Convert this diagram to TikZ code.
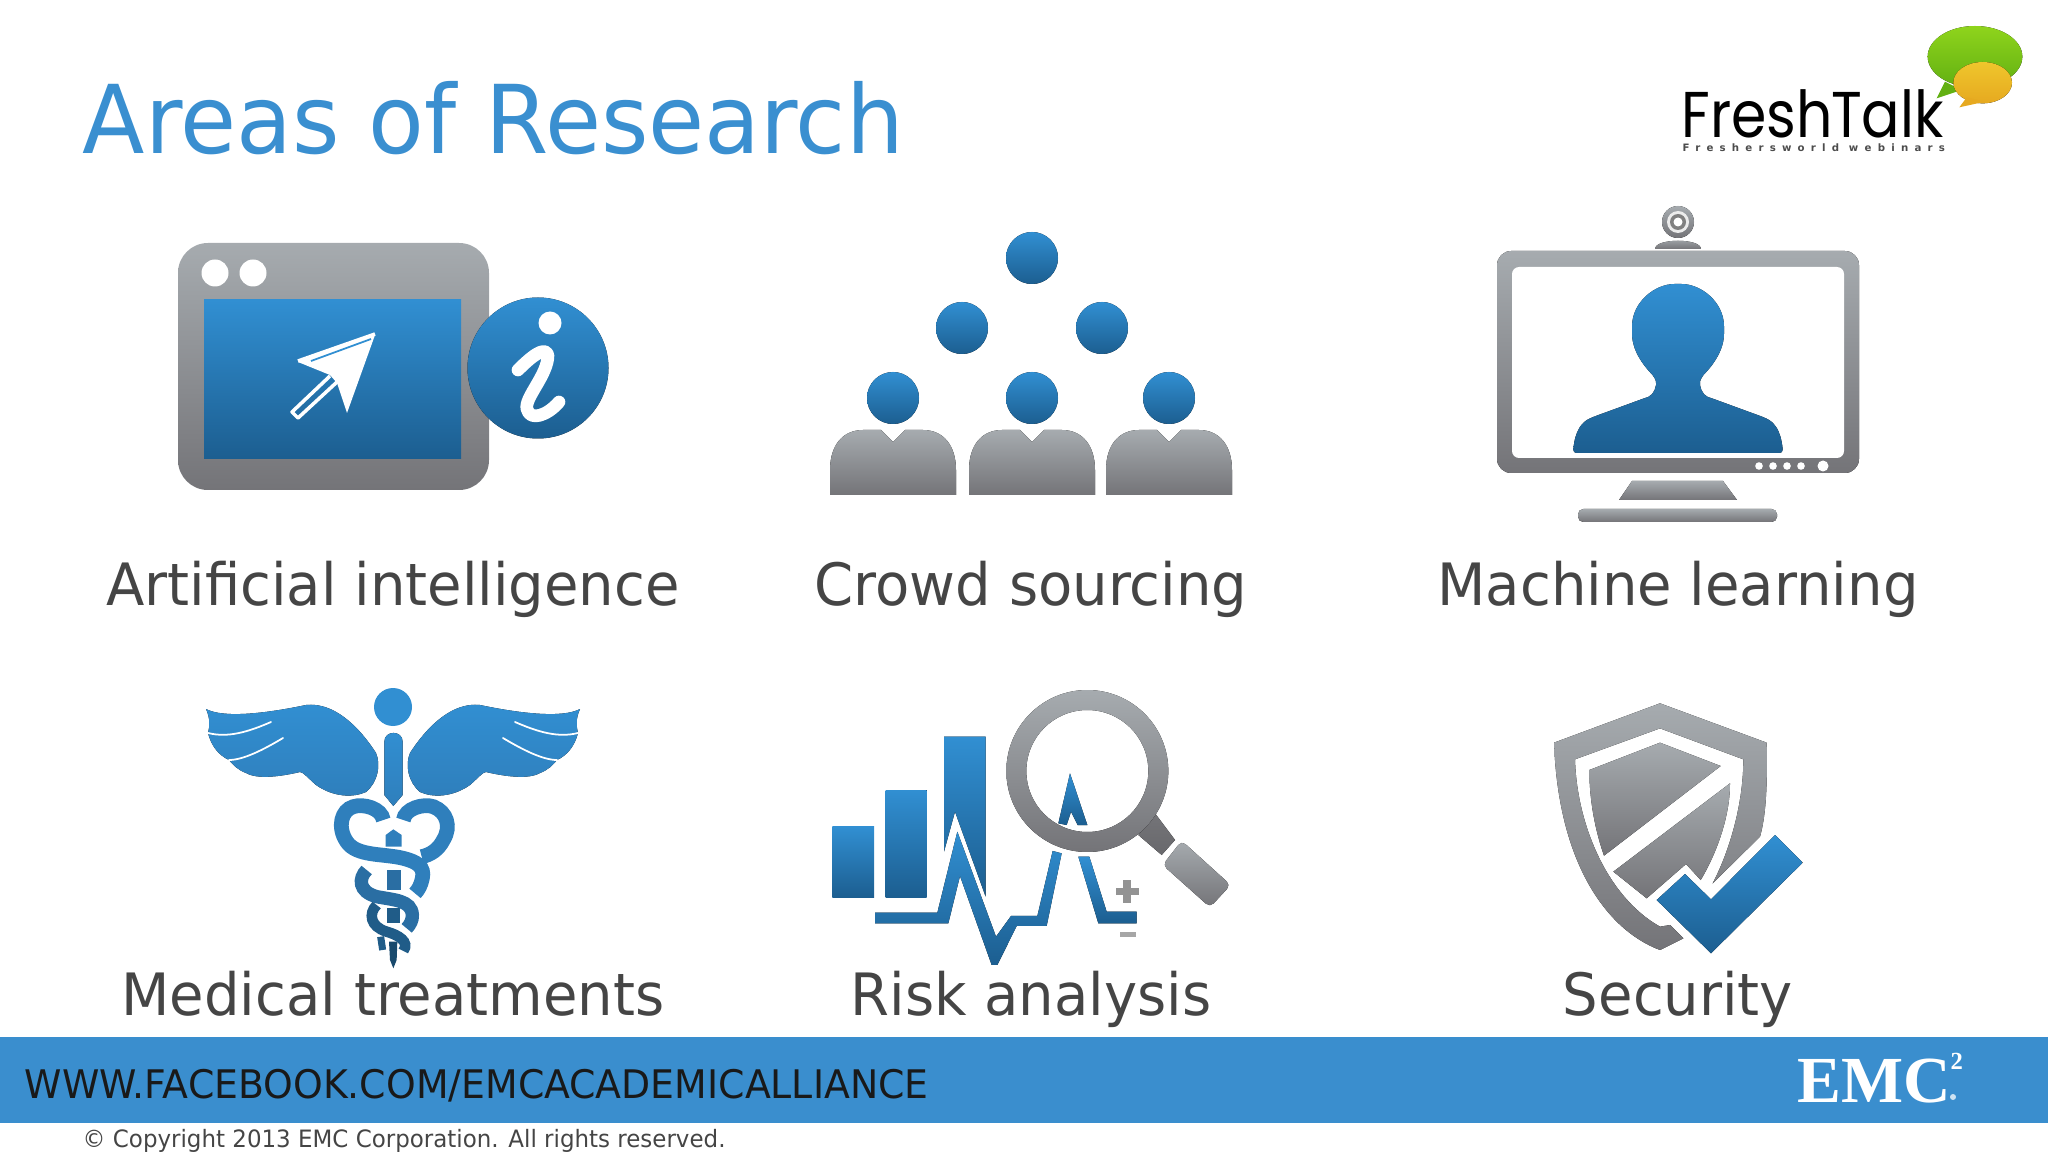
\documentclass[tikz,border=0pt]{standalone}
\usepackage{fontspec}
\setmainfont[FakeStretch=0.96]{DejaVu Sans}
\newfontfamily\logofont[FakeStretch=0.88]{Poppins}
\newfontfamily\logosubfont[LetterSpace=61]{DejaVu Sans Bold}
\newfontfamily\emcfont{Liberation Serif}
\definecolor{bluetop}{HTML}{318FD2}
\definecolor{bluebot}{HTML}{1C5E90}
\definecolor{graytop}{HTML}{A6ABAF}
\definecolor{graybot}{HTML}{747478}
\definecolor{barblue}{HTML}{3A8ECE}
\definecolor{titleblue}{HTML}{3A8FD0}
\definecolor{labelgray}{HTML}{454545}
\definecolor{snakea}{HTML}{2F7FBC}
\definecolor{snakeb}{HTML}{2A6EA3}
\definecolor{snakec}{HTML}{205C88}
\definecolor{logogreentop}{HTML}{8FD41C}
\definecolor{logogreenbot}{HTML}{62B012}
\definecolor{logoyellowtop}{HTML}{EFC62C}
\definecolor{logoyellowbot}{HTML}{E6A920}
\tikzset{
	bluegrad/.style={top color=bluetop,bottom color=bluebot,draw=none},
	graygrad/.style={top color=graytop,bottom color=graybot,draw=none},
	labeltext/.style={anchor=base,inner sep=0pt,text=labelgray,font=\fontsize{16.6}{20}\selectfont},
	whiteline/.style={draw=white,line width=0.5pt,line cap=round}
}
\begin{document}
\begin{tikzpicture}[x=0.01cm,y=-0.01cm]
	\useasboundingbox (0,0) rectangle (2048,1152);

	\node[anchor=base west,inner sep=0pt,text=titleblue,font=\fontsize{27}{30}\selectfont] (title) at (82,154) {Areas of Research};

	\begin{scope}[shift={(1650,10)},scale=1/3]
		\fill[top color=logogreentop,bottom color=logogreenbot] (975,140)ellipse(142 and 92);
		\fill[logogreenbot] (885,215)--(860,265)--(935,240)--cycle;
		\fill[top color=logoyellowtop,bottom color=logoyellowbot] (998,218)ellipse(88 and 62);
		\fill[logoyellowbot] (950,262)--(928,292)--(1005,275)--cycle;
	\end{scope}
	\node[anchor=base west,inner sep=0pt,text depth=0pt,font=\logofont\fontsize{18.4}{20}\selectfont] (logotext) at (1681,138) {Fresh\kern-0.6pt Talk};
	\node[anchor=base west,inner sep=0pt,text height=1.6pt,text=black!70,font=\logosubfont\fontsize{2.9}{4}\selectfont] (logosub) at (1682,152) {Freshersworld webinars};

	\draw[graygrad,rounded corners=8.5pt] (178,243) rectangle (489,490);
	\fill[white] (215,273)circle(13.5);
	\fill[white] (253,273)circle(13.5);
	\fill[bluegrad] (204,300) rectangle (461,459);
	\fill[bluegrad] (538,368)circle(70.5);
	\fill[white] (550,323)circle(11.5);
	\draw[white,line width=3.6pt,line cap=round,line join=round] (518,370) .. controls (530,358) and (545,345) .. (548,355) .. controls (548,375) and (524,398) .. (527,409) .. controls (530,422) and (548,415) .. (559,402);
	\fill[white] (375,335)--(298,362)--(330,375)--(337,383)--(347,413)--cycle;
	\draw[white,line width=1pt,line join=round] (330,376)--(292,412)--(298,418)--(337,382);
	\draw[white,line width=1pt,line join=round] (375,334)--(298,361);
	\draw[bluetop,line width=0.5pt] (311,361)--(371,339);

	\foreach \cx/\cy in {1032/258,962/328,1102/328,893/398,1032/398,1169/398}{
		\fill[bluegrad] (\cx,\cy)circle(26);
	}
	\foreach \cx in {893,1032,1169}{
		\begin{scope}[shift={(\cx,0)}]
			\fill[graygrad] (-63,495)--(-63,470) .. controls (-63,445) and (-50,430) .. (-30,430) -- (-12,430)--(0,442)--(12,430)--(30,430) .. controls (50,430) and (63,445) .. (63,470) -- (63,495)--cycle;
		\end{scope}
	}

	\fill[graygrad,rounded corners=4pt] (1497,251) rectangle (1859,473);
	\fill[white,rounded corners=2pt] (1512,267) rectangle (1844,458);
	\fill[bluegrad,rounded corners=1pt] (1573,453) .. controls (1575,430) and (1582,422) .. (1593,417) -- (1645,398) .. controls (1654,395) and (1657,385) .. (1655,378) .. controls (1650,372) and (1632,355) .. (1632,330) .. controls (1632,302) and (1655,284) .. (1678,284) .. controls (1701,284) and (1724,302) .. (1724,330) .. controls (1724,355) and (1706,372) .. (1701,378) .. controls (1699,385) and (1702,395) .. (1711,398) -- (1763,417) .. controls (1774,422) and (1781,430) .. (1783,453) -- cycle;
	\foreach \dx in {1759,1773,1787,1801}{
		\fill[white] (\dx,466)circle(3.8);
	}
	\fill[white] (1823,466)circle(5.5);
	\fill[graygrad] (1632,481)--(1723,481)--(1737,500)--(1619,500)--cycle;
	\fill[graygrad,rounded corners=1.5pt] (1578,509) rectangle (1777,522);
	\fill[graygrad] (1678,222)circle(16);
	\fill[white!85!gray] (1678,222)circle(11);
	\fill[gray] (1678,222)circle(8);
	\fill[white] (1678,222)circle(4.5);
	\fill[graygrad] (1655,249) .. controls (1655,238) and (1701,238) .. (1701,249) -- cycle;

	\foreach \s in {1,-1}{
		\begin{scope}[shift={(393,0)},xscale=\s]
			\fill[top color=bluetop,bottom color=snakea] (187,709) .. controls (170,718) and (130,714) .. (87,705) .. controls (60,702) and (35,725) .. (17,753) .. controls (12,765) and (15,782) .. (27,792) .. controls (40,798) and (60,797) .. (77,785) .. controls (85,778) and (90,772) .. (93,772) .. controls (110,776) and (135,780) .. (147,773) .. controls (155,770) and (160,765) .. (164,760) .. controls (175,755) and (182,745) .. (185,733) .. controls (183,725) and (183,718) .. (187,709) -- cycle;
			\draw[whiteline] (185,733) .. controls (165,738) and (145,732) .. (122,722);
			\draw[whiteline] (164,760) .. controls (150,760) and (130,750) .. (110,738);
		\end{scope}
	}
	\fill[bluetop] (393,707)circle(19);
	\begin{scope}[shift={(190,670)},scale=1/3]
		\fill[top color=bluetop,bottom color=snakea] (583,215) .. controls (583,180) and (638,180) .. (638,215) -- (638,375)--(610,408)--(583,375)--cycle;
		\fill[snakea] (610,478)--(635,495)--(635,530)--(587,530)--(587,495)--cycle;
		\fill[snakeb] (590,600) rectangle (632,660);
		\fill[snakec] (590,715) rectangle (630,760);
		\fill[snakec!80!black] (597,815)--(622,815)--(620,870)--(610,895)--(600,870)--cycle;
		\draw[snakea,line width=4.2pt] (580,450) .. controls (575,415) and (520,400) .. (490,410) .. controls (455,420) and (440,470) .. (470,515) .. controls (500,560) and (580,550) .. (640,565) .. controls (680,575) and (705,590) .. (697,625) .. controls (693,645) and (685,660) .. (675,670);
		\draw[snakea,line width=4.2pt] (640,450) .. controls (645,415) and (700,400) .. (730,410) .. controls (770,425) and (785,470) .. (760,510) .. controls (745,540) and (720,555) .. (695,560);
		\draw[snakeb,line width=3.8pt] (530,600) .. controls (505,625) and (505,665) .. (560,680) .. controls (610,690) and (665,690) .. (667,735) .. controls (668,750) and (660,765) .. (650,775);
		\draw[snakec,line width=3pt] (560,705) .. controls (535,730) and (540,770) .. (590,785) .. controls (625,795) and (660,815) .. (640,843);
		\draw[snakec,line width=2pt] (572,800)--(578,840);
	\end{scope}

	\begin{scope}[shift={(810,670)},scale=1/3]
		\fill[bluegrad] (67,470) rectangle (192,682);
		\fill[bluegrad] (227,360) rectangle (350,682);
		\fill[bluegrad] (402,200)--(527,200)--(527,680)--(435,425)--(402,545)--cycle;
		\fill[bluegrad] (195,728)--(382,728)--(442,485)--(558,800)--(603,738)--(682,738)--(728,543)--(755,550)--(710,768)--(620,768)--(562,885)--(545,885)--(450,618)--(415,760)--(195,760)--cycle;
		\fill[bluegrad] (805,560)--(838,560)--(890,725)--(980,725)--(980,760)--(865,760)--cycle;
		\fill[bluegrad] (780,310)--(832,465)--(803,465)--(783,425)--(770,465)--(745,460)--cycle;
		\fill[top color=graybot,bottom color=graybot!90!black] (1035,430)--(1095,510)--(1055,555)--(985,495)--cycle;
		\fill[graygrad,rounded corners=1.5pt] (1115,512)--(1262,645)--(1200,712)--(1058,585)--cycle;
		\fill[graygrad,even odd rule] (832,303)circle(243) (832,303)circle(183);
		\fill[gray!85] (917,655) rectangle (988,675);
		\fill[gray!85] (940,630) rectangle (962,700);
		\fill[gray!70] (930,785) rectangle (978,802);
	\end{scope}

	\begin{scope}[shift={(1530,690)},scale=1/3]
		\fill[graygrad,even odd rule] (390,40)--(710,158) .. controls (712,270) and (710,370) .. (690,440) -- (548,580) .. controls (600,480) and (640,340) .. (640,208) -- (390,115)--(135,208) .. controls (140,400) and (230,620) .. (390,710) -- (420,705)--(460,745)--(390,780) .. controls (230,720) and (85,520) .. (72,158) -- cycle;
		\fill[graygrad] (390,158)--(572,228)--(222,497) .. controls (195,420) and (178,330) .. (178,240) -- cycle;
		\fill[graygrad] (600,280) .. controls (600,380) and (560,490) .. (512,570) -- (468,522)--(350,625)--(250,545)--cycle;
		\fill[bluegrad] (735,435)--(818,518)--(543,790)--(380,630)--(465,552)--(543,628)--cycle;
	\end{scope}

	\node[labeltext] (labelai) at (393,605) {Artificial intelligence};
	\node[labeltext] (labelcrowd) at (1031,605) {Crowd sourcing};
	\node[labeltext] (labelml) at (1678,605) {Machine learning};
	\node[labeltext] (labelmed) at (393,1015) {Medical treatments};
	\node[labeltext] (labelrisk) at (1031,1015) {Risk analysis};
	\node[labeltext] (labelsec) at (1678,1015) {Security};

	\fill[barblue] (0,1037) rectangle (2048,1123);
	\node[anchor=base west,inner sep=0pt,text=black!90,font=\fontsize{11.2}{14}\selectfont] (footerurl) at (24,1098) {WWW.FACEBOOK.COM/EMCACADEMICALLIANCE};
	\node[anchor=base west,inner sep=0pt,text=white,font=\emcfont\bfseries\fontsize{18.7}{20}\selectfont] (emctext) at (1797,1102) {EMC};
	\node[anchor=base west,inner sep=0pt,text=white,font=\emcfont\bfseries\fontsize{7}{8}\selectfont] (emctwo) at (1950,1069) {2};
	\fill[white!75!barblue] (1953,1097)circle(3);
	\node[anchor=base west,inner sep=0pt,text=labelgray,font=\fontsize{6.8}{8}\selectfont] (copyrightline) at (82,1147) {© Copyright 2013 EMC Corporation. All rights reserved.};
\end{tikzpicture}
\end{document}
